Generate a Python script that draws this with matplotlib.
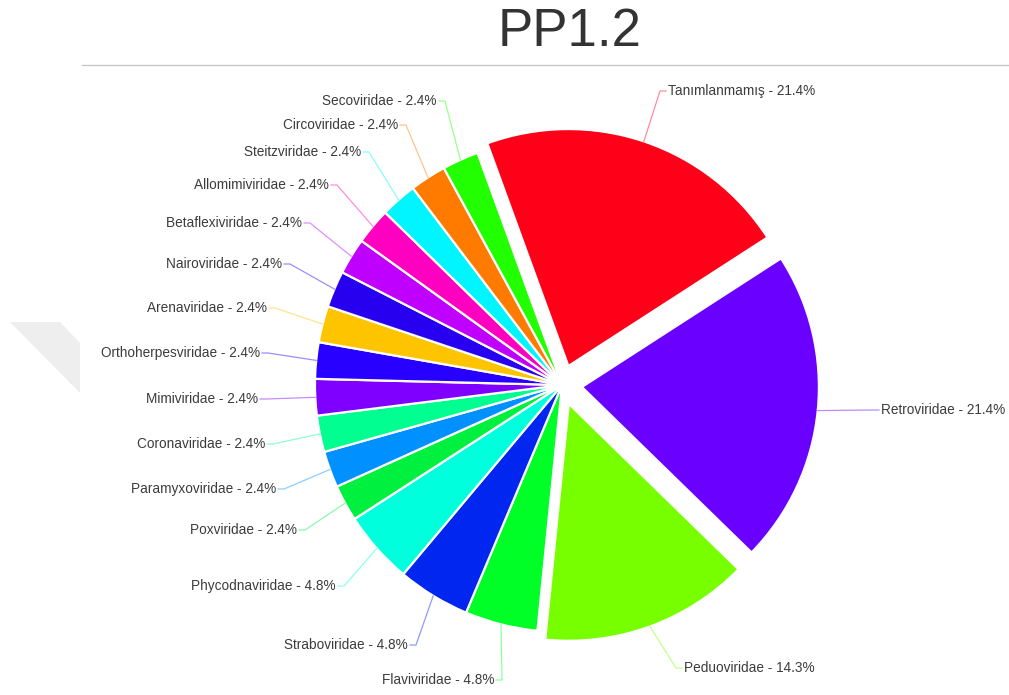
import matplotlib
matplotlib.use("Agg")
import matplotlib.pyplot as plt
import numpy as np

# ---- data ----
categories = ["Tanımlanmamış", "Retroviridae", "Peduoviridae", "Flaviviridae",
              "Straboviridae", "Phycodnaviridae", "Poxviridae", "Paramyxoviridae",
              "Coronaviridae", "Mimiviridae", "Orthoherpesviridae", "Arenaviridae",
              "Nairoviridae", "Betaflexiviridae", "Allomimiviridae", "Steitzviridae",
              "Circoviridae", "Secoviridae"]
counts = [9, 9, 6, 2, 2, 2, 1, 1, 1, 1, 1, 1, 1, 1, 1, 1, 1, 1]
sliced = [True, True, True] + [False] * 15

# ---- styles ----
colors = ["#ff0019", "#6a00ff", "#77ff00", "#00ff26", "#0026f0", "#00ffdc",
          "#00f040", "#0090ff", "#00ff90", "#8000ff", "#2800ff", "#ffc400",
          "#2800f0", "#c000ff", "#ff00c0", "#00f5ff", "#ff7b00", "#22ff00"]

# ---- layout (image pixel coordinates, origin top-left) ----
W, H = 1009, 695
pie_cx, pie_cy = 562, 385
R = 247
offset = 20
label_side = ["R", "R", "R"] + ["L"] * 15
label_x = [668, 881, 684, 494, 408, 336, 297, 276, 265, 258, 260, 267, 282, 302,
           329, 361, 398, 437]
label_y = [91, 410, 668, 680, 645, 586, 530, 489, 444, 399, 353, 308, 264, 223,
           185, 152, 125, 101]

plt.rcParams['font.family'] = ['Liberation Sans', 'DejaVu Sans']

fig = plt.figure(figsize=(W / 100, H / 100), dpi=100)
ax = fig.add_axes([0, 0, 1, 1])

# faint watermark shape on the left
ax.fill([10, 60, 80, 80], [H - 322, H - 322, H - 343, H - 393],
        color="#eeeeee", lw=0, zorder=0)

# title and rule
fig.text(569.5 / W, 1 - 32 / H, "PP1.2", ha='center', va='center',
         fontsize=38, color='#333333')
ax.plot([82, W], [H - 65, H - 65], color="#c8c8c8", lw=1.0)

total = sum(counts)
explode = [offset if s else 0 for s in sliced]
wedges, _ = ax.pie(counts, colors=colors, startangle=110, counterclock=False,
                   radius=R, center=(pie_cx, H - pie_cy), explode=explode,
                   wedgeprops=dict(edgecolor='white', linewidth=1.6),
                   frame=True)
ax.set_xlim(0, W)
ax.set_ylim(0, H)
ax.set_aspect('equal')
ax.axis('off')
for w, s in zip(wedges, sliced):
    if s:
        w.set_radius(R - 10)

for w, name, c, col, side, lx, ly in zip(wedges, categories, counts, colors,
                                          label_side, label_x, label_y):
    pct = 100.0 * c / total
    txt = f"{name} - {pct:.1f}%"
    y = H - ly
    mid = np.deg2rad(0.5 * (w.theta1 + w.theta2))
    ex = w.center[0] + w.r * np.cos(mid)
    ey = w.center[1] + w.r * np.sin(mid)
    if side == "L":
        ax.text(lx, y, txt, ha='right', va='center', fontsize=9.8, color='#3c3c3c')
        xs = [lx + 2, lx + 8, ex]
    else:
        ax.text(lx, y, txt, ha='left', va='center', fontsize=9.8, color='#3c3c3c')
        xs = [lx - 2, lx - 8, ex]
    ax.plot(xs, [y, y, ey], color=col, alpha=0.45, lw=0.9,
            solid_joinstyle='miter')

fig.savefig("out.png", dpi=100, facecolor='white')
